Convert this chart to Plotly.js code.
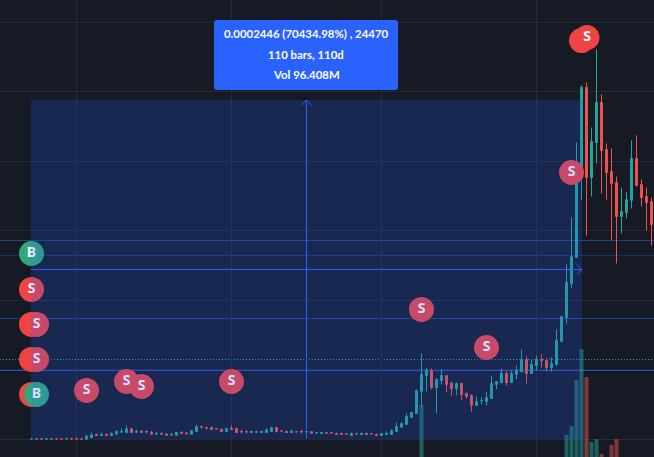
<!DOCTYPE html>
<html>
<head>
<meta charset="utf-8">
<script src="https://cdn.plot.ly/plotly-3.0.1.min.js"></script>
<style>
    html, body { margin: 0; padding: 0; background: #161a25; overflow: hidden; }
</style>
</head>
<body>
<div id="myDiv"></div>
<script>
// daily candles, prices in millionths
const open = [
    0.1,0.1,0.2,0.1,0.1,0.2,0.2,0.1,0.3,0.2,
    0.2,0,1.2,3.4,2.6,3.4,2.6,3.6,5,4.8,
    7.4,4.8,5.8,5.5,5,3.6,4.1,3.6,2.9,2.9,
    5,4.6,3.6,5.5,8.9,8.2,8.4,7.5,7,5.5,
    7.7,7.7,5.6,5.4,4.8,5.5,4.8,4.8,5.5,8.4,
    6.1,5.5,4.8,5.4,5.6,5.2,5.5,4.5,4.1,4.6,
    4.6,4.1,4.1,3.9,2.6,3.9,3.4,4.1,3.9,3.4,
    2.6,3.4,3.4,5.5,8.6,10.6,15.6,18.5,34.3,45.8,
    49.4,37.2,42.2,45.8,40.1,36.5,40.1,32.9,31.4,24.2,
    27.7,27.1,29.3,39.4,40.8,47.3,40.8,46.6,48.7,57.4,
    47.3,53,57.4,56.6,51.6,53.8,70.3,87.6,112.1,130.8,
    192,253.2,188.4,213.6,242.4,208.6,192.7,184.8,160.3,163.2,
    171.9,202.1,183.4,174.7,171.1
];
const high = [
    0.2,0.2,0.2,0.2,0.2,0.2,0.2,1,1,0.3,
    0.3,3.4,4.8,4.1,4.8,4.1,4.8,6.2,7.7,9.8,
    8.2,7,6.5,6.5,5.8,5.5,4.8,4.3,4.1,4.8,
    5.5,5,6.2,10.6,9.8,9.1,9.1,7.5,7.7,7.7,
    9.8,7.7,7,6.2,6.2,6.2,6.2,7.7,8.4,8.4,
    6.1,6.2,7,5.4,7,6.2,5.5,4.6,5.5,4.6,
    4.6,4.8,4.8,3.9,4.8,3.9,4.8,4.8,3.9,4.1,
    4.1,5.5,7,12,12,18.5,19.2,35.8,61.7,51.6,
    50.9,43.7,50.2,45.8,41.5,40.8,40.1,33.6,32.2,30.7,
    30,34.3,45.8,41.5,50.9,48.7,49.4,53,64.6,59.5,
    57.4,60.2,61,58.1,58.8,78.9,88.8,126.5,159.6,213.6,
    254.7,256.8,224.4,280.6,248.2,212.9,209.3,189.1,181.2,178.3,
    215.1,218.7,187,181.2,174
];
const low = [
    0,0,0,0,0,0,0,0,0,0,
    0,0,1.2,2.6,2.6,2.6,2.6,3.6,5,4.8,
    4.8,4.8,5,4.1,3.6,3.6,3.6,2.9,2.9,2.9,
    4.1,3.8,3.6,5.5,7.4,7,7,7.3,5.5,5.5,
    7,4.8,4.1,4.1,4.8,4.8,4.8,4.8,5.5,4.8,
    5.9,4.8,4.8,5.2,4.1,5.2,4.1,4.4,4.1,4.4,
    4.4,3.4,3.4,3.7,2.6,3.7,3.4,3.4,3.7,2.6,
    2.6,3.4,3.4,5.5,8.6,10.6,15.6,18.5,23.5,34.3,
    35.8,18.5,39.4,33.6,31.4,31.4,27.8,29.3,19.9,24.2,
    25,24.2,29.3,35.8,40.1,38.6,40.8,43,48,40.1,
    47.3,49.4,51.6,49.4,48.7,53,70.3,83.3,108.5,130.8,
    172.6,146.7,174.7,198.5,176.9,171.9,143.1,126.5,148.1,158.9,
    166.1,181.9,167.5,150.3,139.5
];
const close = [
    0.2,0.2,0.1,0.2,0.2,0.1,0.1,0.3,0.1,0.1,
    0.1,1.9,3.1,2.6,3.4,2.6,4.1,5.5,5.5,7.4,
    4.8,5.5,5,5.3,3.6,4.1,3.6,2.9,3.4,4.8,
    4.1,3.8,6.2,8.9,8.7,8,7,7.3,5.5,7.7,
    7.1,4.8,5.4,5.2,5.5,4.8,5.5,6.7,8.4,5.5,
    5.9,4.8,5.5,5.2,5.4,5.4,4.1,4.6,4.8,4.4,
    4.4,3.4,3.4,3.7,4.1,3.7,4.1,3.4,3.7,2.6,
    4.1,4.1,6.2,9.1,11.3,16.3,19.2,35,46.6,49.4,
    37.2,43,45.8,39.4,36.5,40.1,32.2,30.7,24.2,27.1,
    27.9,30,40.1,41.5,47.3,40.8,47.3,49.4,57.4,47.3,
    53.8,57.4,56.6,51.6,54.5,71,88.3,112.8,131.5,191.3,
    253.2,188.4,214.3,242.4,207.9,192,184.1,160.3,163.9,172.6,
    202.1,182.7,174,170.4,154.6
];

// volume, only the bars tall enough to see
const volumeBars = [78, 107, 108, 109, 110, 111, 112, 113, 114, 116, 117];
const volumeValues = [17.2, 7.3, 10.2, 25.4, 35.6, 26.4, 5, 5.9, 1, 4, 5.9];

// trade marks
const hiddenSellX = [0, 0, 0, 110];
const hiddenSellY = [82.6, 57.4, 32.2, 287];
const sellX = [111.1, 108, 0, 1, 1, 11, 19, 22, 40, 78, 91];
const sellY = [289.2, 192, 107.8, 82.6, 57.4, 35.1, 41.5, 37.9, 41.5, 93.4, 66];
const buyX = [0, 1];
const buyY = [133.7, 32.2];

// horizontal levels
const levels = [143.04, 132.24, 86.88, 49.44];
const levelColors = ['rgba(41,98,255,0.5)', 'rgba(41,98,255,0.3)', 'rgba(41,98,255,0.5)', 'rgba(41,98,255,0.75)'];
const lastPrice = 57.36;

// measure tool
const measureStart = -0.1;
const measureEnd = 110.1;
const measureBottom = 0.2;
const measureTop = 244.2;
const measureLabels = ['0.0002446 (70434.98%) , 24470', '110 bars, 110d', 'Vol 96.408M'];

const gridBars = [9, 40, 70, 101];
const gridPrices = [0, 50, 100, 150, 200, 250, 300];

const bg = '#161a25';
const gridColor = '#262a35';
const blue = '#2962ff';

plot();

function volumeColor(i) {
    return close[i] >= open[i] ? 'rgba(38,166,154,0.5)' : 'rgba(239,83,80,0.5)';
}

function line(x0, y0, x1, y1, color, layer) {
    return {
        type: 'line', xref: 'x', yref: 'y2', layer: layer,
        x0: x0, y0: y0, x1: x1, y1: y1,
        line: { color: color, width: 1 }
    };
}

/**
 * Lines, the measure box with its arrows, and the label box
 */
function makeShapes() {
    const shapes = [];
    const xMin = -6.3;
    const xMax = 124.5;
    for (let i = 0; i < levels.length; i++) {
        shapes.push(line(xMin, levels[i], xMax, levels[i], levelColors[i], 'below'));
    }
    const last = line(xMin, lastPrice, xMax, lastPrice, '#26a69a', 'below');
    last.line.dash = '1px,2px';
    shapes.push(last);

    const midX = (measureStart + measureEnd) / 2;
    const midY = (measureBottom + measureTop) / 2;
    shapes.push({
        type: 'rect', xref: 'x', yref: 'y2', layer: 'above',
        x0: measureStart, x1: measureEnd, y0: measureBottom, y1: measureTop,
        fillcolor: 'rgba(41,98,255,0.2)', line: { width: 0 }
    });
    shapes.push(line(measureStart, midY, measureEnd, midY, blue, 'above'));
    shapes.push(line(midX, measureBottom, midX, measureTop, blue, 'above'));
    // arrow heads
    shapes.push(line(measureEnd - 1, midY + 3.6, measureEnd, midY, blue, 'above'));
    shapes.push(line(measureEnd - 1, midY - 3.6, measureEnd, midY, blue, 'above'));
    shapes.push(line(midX - 1, measureTop - 3.6, midX, measureTop, blue, 'above'));
    shapes.push(line(midX + 1, measureTop - 3.6, midX, measureTop, blue, 'above'));

    // label box, rounded corners
    const l = 214 / 654, r = 398 / 654, t = 1 - 20 / 457, b = 1 - 90 / 457;
    const rx = 3 / 654, ry = 3 / 457;
    shapes.push({
        type: 'path', xref: 'paper', yref: 'paper', layer: 'above',
        path: 'M' + (l + rx) + ',' + t + ' L' + (r - rx) + ',' + t + ' Q' + r + ',' + t + ' ' + r + ',' + (t - ry) +
            ' L' + r + ',' + (b + ry) + ' Q' + r + ',' + b + ' ' + (r - rx) + ',' + b +
            ' L' + (l + rx) + ',' + b + ' Q' + l + ',' + b + ' ' + l + ',' + (b + ry) +
            ' L' + l + ',' + (t - ry) + ' Q' + l + ',' + t + ' ' + (l + rx) + ',' + t + ' Z',
        fillcolor: blue, line: { width: 0 }
    });
    return shapes;
}

function makeAnnotations() {
    const rows = [34, 55, 75];
    return measureLabels.map(function (txt, i) {
        return {
            xref: 'paper', yref: 'paper', x: 306 / 654, y: 1 - rows[i] / 457,
            xanchor: 'center', yanchor: 'middle', showarrow: false, text: txt,
            font: { family: 'Lato, sans-serif', size: 11.4, color: '#ffffff', weight: 700 }
        };
    });
}

function marks(x, y, color, label) {
    const trace = {
        type: 'scatter', x: x, y: y, yaxis: 'y2', hoverinfo: 'skip',
        mode: label ? 'markers+text' : 'markers',
        marker: { size: 25, color: color, line: { width: 0 } }
    };
    if (label) {
        trace.text = x.map(function () { return label; });
        trace.textposition = 'middle center';
        trace.textfont = { family: '"Noto Sans", sans-serif', size: 14, color: '#ffffff', weight: 700 };
    }
    return trace;
}

function plot() {
    const volumes = {
        type: 'bar', x: volumeBars, y: volumeValues, width: 0.8, hoverinfo: 'skip',
        marker: { color: volumeBars.map(volumeColor), line: { width: 0 } }
    };
    const candles = {
        type: 'candlestick', yaxis: 'y2', hoverinfo: 'skip',
        x: open.map(function (v, i) { return i; }),
        open: open, high: high, low: low, close: close,
        increasing: { line: { color: '#26a69a', width: 1 }, fillcolor: '#26a69a' },
        decreasing: { line: { color: '#ef5350', width: 1 }, fillcolor: '#ef5350' }
    };
    const data = [
        volumes,
        candles,
        marks(hiddenSellX, hiddenSellY, '#ef4444', ''),
        marks(sellX, sellY, '#ef4444', 'S'),
        marks(buyX, buyY, '#34a77a', 'B')
    ];
    const layout = {
        width: 654,
        height: 457,
        autosize: false,
        margin: { l: 0, r: 0, t: 0, b: 0 },
        paper_bgcolor: bg,
        plot_bgcolor: bg,
        showlegend: false,
        boxgap: 0.45,
        xaxis: {
            type: 'linear', range: [-6.3, 124.5], rangeslider: { visible: false },
            tickmode: 'array', tickvals: gridBars, showticklabels: false, ticks: '',
            showgrid: true, gridcolor: gridColor, gridwidth: 1, zeroline: false, showline: false
        },
        yaxis: {
            range: [0, 150.8], showgrid: false, showticklabels: false, ticks: '',
            zeroline: false, showline: false
        },
        yaxis2: {
            overlaying: 'y', range: [-12.84, 316.2],
            tickmode: 'array', tickvals: gridPrices, showticklabels: false, ticks: '',
            showgrid: true, gridcolor: gridColor, gridwidth: 1, zeroline: false, showline: false
        },
        shapes: makeShapes(),
        annotations: makeAnnotations()
    };
    Plotly.newPlot('myDiv', data, layout, { displayModeBar: false, staticPlot: true });
}
</script>
</body>
</html>
